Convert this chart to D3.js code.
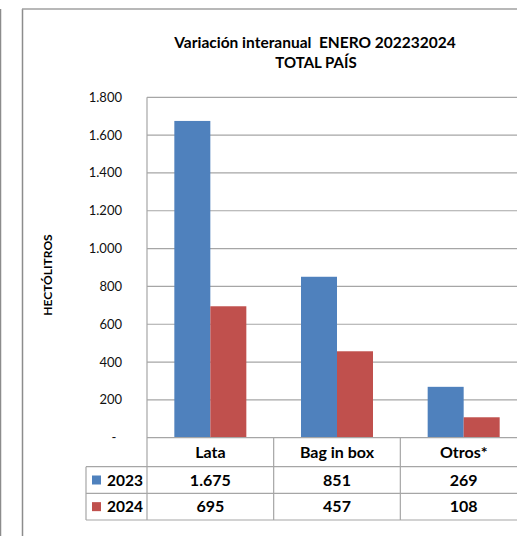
<!DOCTYPE html>
<html><head><meta charset="utf-8">
<script src="https://cdn.jsdelivr.net/npm/d3@7"></script>
<style>body{margin:0;background:#fff}svg{display:block}text{font-family:Lato,"Open Sans",sans-serif}</style>
</head><body><svg id="c" width="517" height="536"></svg>
<script>
const categories = ["Lata", "Bag in box", "Otros*"];
const seriesNames = ["2023", "2024"];
const values2023 = [1675, 851, 269];
const values2024 = [695, 457, 108];
const valueLabels2023 = ["1.675", "851", "269"];
const valueLabels2024 = ["695", "457", "108"];
const yTicks = [0, 200, 400, 600, 800, 1000, 1200, 1400, 1600, 1800];
const colors = ["#4F81BD", "#C0504D"];

(function(){
const svg = d3.select("#c");
const gridC = "#A6A6A6";
const pL = 147, pT = 97.3, pB = 437.7, pR = 527;
const x = d3.scaleBand().domain(categories).range([pL, pR]);
const y = d3.scaleLinear().domain([0, 1800]).range([pB, pT]);
const xs = d3.scaleBand().domain(seriesNames).range([0, 72]);

// outer frames
svg.append("line").attr("x1",0.5).attr("x2",0.5).attr("y1",9).attr("y2",536).attr("stroke","#8c8c8c").attr("stroke-width",1.5);
svg.append("line").attr("x1",22.5).attr("x2",22.5).attr("y1",9).attr("y2",536).attr("stroke","#8c8c8c").attr("stroke-width",1.5);
svg.append("line").attr("x1",22).attr("x2",517).attr("y1",9).attr("y2",9).attr("stroke","#a0a0a0").attr("stroke-width",1.5);

// title
svg.append("text").attr("x",315).attr("y",48).attr("text-anchor","middle").attr("font-size",15.5).attr("font-weight","bold").attr("xml:space","preserve").text("Variación interanual  ENERO 202232024");
svg.append("text").attr("x",316).attr("y",68).attr("text-anchor","middle").attr("font-size",15).attr("font-weight","bold").text("TOTAL PAÍS");

// gridlines
svg.append("g").selectAll("line").data(yTicks.filter(d=>d>0)).join("line")
  .attr("x1",pL).attr("x2",pR).attr("y1",d=>y(d)).attr("y2",d=>y(d))
  .attr("stroke",gridC).attr("stroke-width",1.2);

// y axis labels
const fmt = d => d === 0 ? "-" : d3.format(",")(d).replace(/,/g, ".");
svg.append("g").selectAll("text").data(yTicks).join("text")
  .attr("x",d=>d===0?114:122).attr("y",d=>y(d)+4.5).attr("text-anchor",d=>d===0?"middle":"end")
  .attr("font-size",13).attr("fill","#111").text(fmt);

svg.append("text").attr("transform","translate(52,275) rotate(-90)").attr("text-anchor","middle")
  .attr("font-size",12).attr("font-weight","bold").text("HECTÓLITROS");

// bars
const data = categories.map((c,i)=>({c, v:[values2023[i], values2024[i]]}));
const g = svg.append("g");
data.forEach(d=>{
  seriesNames.forEach((s,j)=>{
    g.append("rect").attr("x", x(d.c) + x.bandwidth()/2 - 36 + xs(s)).attr("width", xs.bandwidth())
      .attr("y", y(d.v[j])).attr("height", y(0)-y(d.v[j])).attr("fill", colors[j]);
  });
});

// axis
svg.append("line").attr("x1",pL).attr("x2",pL).attr("y1",pT).attr("y2",520).attr("stroke",gridC).attr("stroke-width",1.2);

// table
const rowY = [pB, 466.7, 493.3, 520];
const tl = 86;
svg.append("g").selectAll("line").data(rowY.slice(1)).join("line")
  .attr("x1",tl).attr("x2",pR).attr("y1",d=>d).attr("y2",d=>d).attr("stroke",gridC).attr("stroke-width",1.2);
svg.append("line").attr("x1",pL).attr("x2",pR).attr("y1",pB).attr("y2",pB).attr("stroke",gridC).attr("stroke-width",1.2);
svg.append("line").attr("x1",tl).attr("x2",tl).attr("y1",rowY[1]).attr("y2",520).attr("stroke",gridC).attr("stroke-width",1.2);
categories.forEach(c=>{
  svg.append("line").attr("x1",x(c)+x.bandwidth()).attr("x2",x(c)+x.bandwidth()).attr("y1",pB).attr("y2",520).attr("stroke",gridC).attr("stroke-width",1.2);
});
svg.append("g").selectAll("text").data(categories).join("text")
  .attr("x",c=>x(c)+x.bandwidth()/2).attr("y",(rowY[0]+rowY[1])/2+6).attr("text-anchor","middle")
  .attr("font-size",16).attr("font-weight","bold").text(c=>c);
const rowsLabels = [valueLabels2023, valueLabels2024];
seriesNames.forEach((s,j)=>{
  const cy = (rowY[j+1]+rowY[j+2])/2;
  svg.append("rect").attr("x",92).attr("y",cy-4.5).attr("width",9).attr("height",9).attr("fill",colors[j]);
  svg.append("text").attr("x",107).attr("y",cy+5.5).attr("font-size",15.5).attr("font-weight","bold").text(s);
  categories.forEach((c,i)=>{
    svg.append("text").attr("x",x(c)+x.bandwidth()/2).attr("y",cy+5.5).attr("text-anchor","middle")
      .attr("font-size",16).attr("font-weight","bold").text(rowsLabels[j][i]);
  });
});
})();
</script></body></html>
